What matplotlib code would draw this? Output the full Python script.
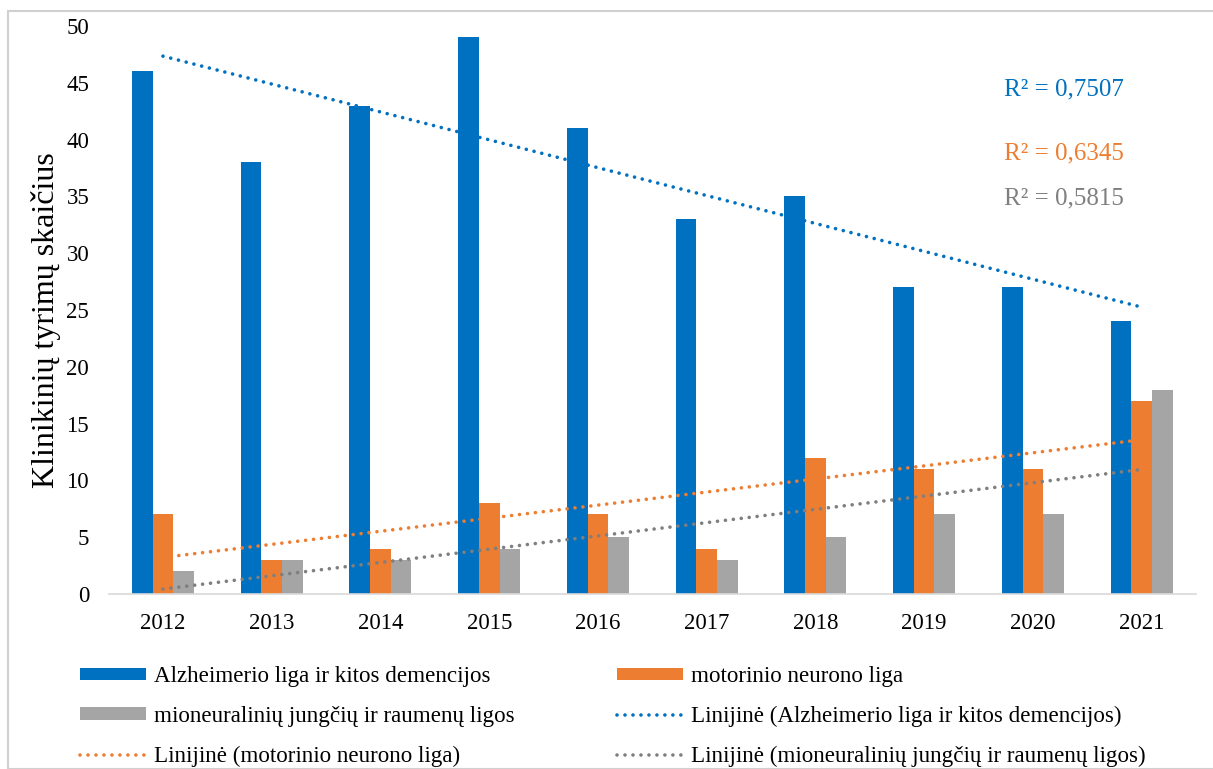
import numpy as np
import matplotlib
matplotlib.use("Agg")
import matplotlib.pyplot as plt
from matplotlib.patches import Rectangle

years = ["2012", "2013", "2014", "2015", "2016", "2017", "2018", "2019", "2020", "2021"]
alzheimer = [46, 38, 43, 49, 41, 33, 35, 27, 27, 24]
motor = [7, 3, 4, 8, 7, 4, 12, 11, 11, 17]
mioneural = [2, 3, 3, 4, 5, 3, 5, 7, 7, 18]
r2_texts = ["R² = 0,7507", "R² = 0,6345", "R² = 0,5815"]

series_names = ["Alzheimerio liga ir kitos demencijos",
                "motorinio neurono liga",
                "mioneuralinių jungčių ir raumenų ligos"]

plt.rcParams['font.family'] = ['Liberation Serif', 'DejaVu Serif']

W, H = 1213, 769
fig = plt.figure(figsize=(W / 100, H / 100), dpi=100)

# outer border
fig.patches.append(Rectangle((8 / W, 0), 1.0, 1 - 11 / H, transform=fig.transFigure,
                             fill=False, edgecolor='#D0D0D0', linewidth=1.5, clip_on=False))

ax = fig.add_axes([108.6 / W, 1 - 594 / H, (1196 - 108.6) / W, (594 - 26) / H])

c_blue, c_orange, c_gray = '#0070C0', '#ED7D31', '#A5A5A5'
c_gray_tr = '#7F7F7F'
x = np.arange(len(years))
bw = 0.19
b1 = ax.bar(x - bw, alzheimer, bw, color=c_blue, label=series_names[0])
b2 = ax.bar(x, motor, bw, color=c_orange, label=series_names[1])
b3 = ax.bar(x + bw, mioneural, bw, color=c_gray, label=series_names[2])

dot = (0, (0.01, 2.2))
lines = []
for vals, col, name in [(alzheimer, c_blue, series_names[0]),
                        (motor, c_orange, series_names[1]),
                        (mioneural, c_gray_tr, series_names[2])]:
    k, b = np.polyfit(x, vals, 1)
    ln, = ax.plot(x, k * x + b, linestyle=dot, color=col, linewidth=2.6,
                  dash_capstyle='round', label=f"Linijinė ({name})")
    lines.append(ln)

ax.set_xlim(-0.5, 9.5)
ax.set_ylim(0, 50)
ax.set_yticks(range(0, 51, 5))
ax.set_xticks(x)
ax.set_xticklabels(years)
ax.tick_params(axis='both', length=0, labelsize=16.5)
ax.tick_params(axis='x', pad=14)
ax.tick_params(axis='y', pad=14)
for s in ['top', 'right', 'left']:
    ax.spines[s].set_visible(False)
ax.spines['bottom'].set_color('#D9D9D9')
ax.spines['bottom'].set_linewidth(1.2)

ax.set_ylabel("Klinikinių tyrimų skaičius", fontsize=23)
ax.yaxis.set_label_coords(-0.0435, 0.482)

# R² annotations
for txt, col, yv in zip(r2_texts, [c_blue, c_orange, c_gray_tr], [44.4, 38.8, 34.8]):
    ax.text(8.29, yv, txt, color=col, fontsize=18, ha='center', va='center')

handles = [b1, b3, lines[1], b2, lines[0], lines[2]]
labels = [h.get_label() for h in handles]
leg = fig.legend(handles, labels, ncol=2, loc='upper left',
                 bbox_to_anchor=(80 / W, 1 - 666 / H), frameon=False,
                 fontsize=16.6, handlelength=2.85, handleheight=0.45,
                 handletextpad=0.35, columnspacing=4.45, labelspacing=0.82,
                 borderpad=0, borderaxespad=0)

fig.savefig("out.png", dpi=100)
